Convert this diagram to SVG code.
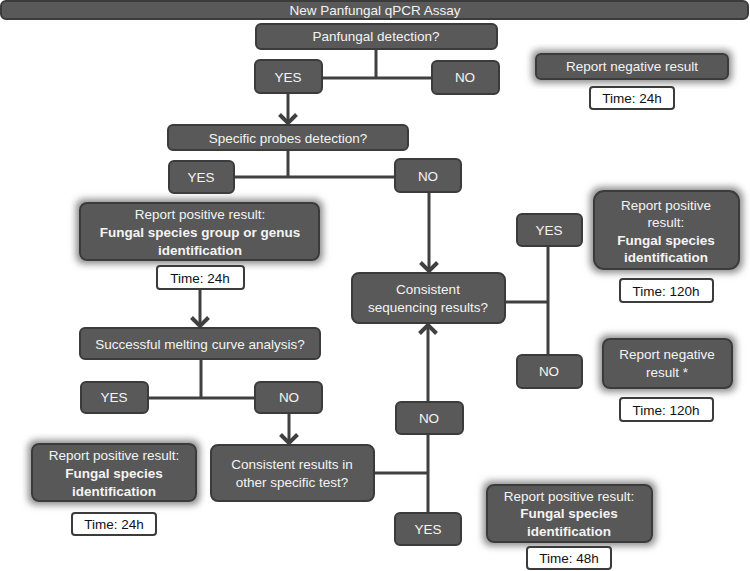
<svg xmlns="http://www.w3.org/2000/svg" width="750" height="571" viewBox="0 0 750 571">
<style>
.n{fill:#595959;stroke:#3b3b3b;stroke-width:2}
.t{fill:#ffffff;stroke:#3b3b3b;stroke-width:2}
text{font-family:"Liberation Sans",Arial,sans-serif;font-size:13.5px;text-anchor:middle}
.w{fill:#f4f4f4}
.b{font-weight:bold}
.k{fill:#111}
.c{stroke:#404040;stroke-width:3;fill:none}
</style>
<defs>
<filter id="glow" x="-20%" y="-40%" width="140%" height="180%">
<feMorphology in="SourceAlpha" operator="dilate" radius="3" result="d"/>
<feGaussianBlur in="d" stdDeviation="3.5" result="bl"/>
<feFlood flood-color="#8c8c8c"/>
<feComposite in2="bl" operator="in" result="g"/>
<feMerge><feMergeNode in="g"/><feMergeNode in="SourceGraphic"/></feMerge>
</filter>
<marker id="ah" markerUnits="userSpaceOnUse" markerWidth="20" markerHeight="20" refX="10" refY="10" viewBox="0 0 20 20" orient="auto">
<path d="M1.5,1.5 L10,10 L1.5,18.5" fill="none" stroke="#404040" stroke-width="4"/>
</marker>
</defs>
<g id="connectors">
<path class="c" d="M376,49 V78 M322,78 H432"/>
<path class="c" d="M288,93 V123" marker-end="url(#ah)"/>
<path class="c" d="M288,150 V177 M234,177 H395"/>
<path class="c" d="M429,192 V271" marker-end="url(#ah)"/>
<path class="c" d="M200,289 V326" marker-end="url(#ah)"/>
<path class="c" d="M201,359 V398 M148,398 H255"/>
<path class="c" d="M289,413 V443" marker-end="url(#ah)"/>
<path class="c" d="M374,473 H428 M428,434 V513"/>
<path class="c" d="M428,402 V325" marker-end="url(#ah)"/>
<path class="c" d="M505,302 H548 M548,246 V355"/>
</g>
<g id="title"><rect class="n" x="1" y="1" width="747" height="18" rx="5"/><text class="w" x="375" y="15">New Panfungal qPCR Assay</text></g>
<g id="panfungal"><rect class="n" x="256" y="24" width="241" height="25" rx="5"/><text class="w" x="376" y="41">Panfungal detection?</text></g>
<g id="yes1"><rect class="n" x="255" y="60" width="67" height="33" rx="5"/><text class="w" x="288" y="81.5">YES</text></g>
<g id="no1"><rect class="n" x="432" y="61" width="67" height="33" rx="5"/><text class="w" x="465" y="82">NO</text></g>
<g id="neg1"><rect class="n" x="536" y="54" width="192" height="25" rx="5" filter="url(#glow)"/><text class="w" x="632" y="71">Report negative result</text></g>
<g id="time1"><rect class="t" x="590" y="87" width="84" height="22" rx="3"/><text class="k" x="632" y="103">Time: 24h</text></g>
<g id="specific"><rect class="n" x="168" y="125" width="240" height="25" rx="5"/><text class="w" x="288" y="142.5">Specific probes detection?</text></g>
<g id="yes2"><rect class="n" x="169" y="161" width="65" height="32" rx="5"/><text class="w" x="201" y="182">YES</text></g>
<g id="no2"><rect class="n" x="395" y="159" width="66" height="33" rx="5"/><text class="w" x="428" y="180.5">NO</text></g>
<g id="pos1"><rect class="n" x="80" y="203" width="239" height="57" rx="7" filter="url(#glow)"/><text class="w" x="200" y="219">Report positive result:</text><text class="w b" x="200" y="237">Fungal species group or genus</text><text class="w b" x="200" y="255">identification</text></g>
<g id="time2"><rect class="t" x="157" y="266" width="87" height="23" rx="3"/><text class="k" x="200" y="282.5">Time: 24h</text></g>
<g id="melting"><rect class="n" x="80" y="328" width="240" height="31" rx="5"/><text class="w" x="200" y="348.5">Successful melting curve analysis?</text></g>
<g id="yes3"><rect class="n" x="81" y="382" width="67" height="31" rx="5"/><text class="w" x="114" y="402">YES</text></g>
<g id="no3"><rect class="n" x="255" y="382" width="67" height="31" rx="5"/><text class="w" x="289" y="402">NO</text></g>
<g id="pos2"><rect class="n" x="32" y="444" width="164" height="57" rx="7" filter="url(#glow)"/><text class="w" x="114" y="460">Report positive result:</text><text class="w b" x="114" y="478">Fungal species</text><text class="w b" x="114" y="496">identification</text></g>
<g id="time3"><rect class="t" x="72" y="513" width="84" height="22" rx="3"/><text class="k" x="114" y="529">Time: 24h</text></g>
<g id="othertest"><rect class="n" x="211" y="445" width="163" height="56" rx="7"/><text class="w" x="292" y="469">Consistent results in</text><text class="w" x="292" y="487">other specific test?</text></g>
<g id="no4"><rect class="n" x="396" y="402" width="67" height="32" rx="5"/><text class="w" x="429" y="423">NO</text></g>
<g id="yes4"><rect class="n" x="395" y="513" width="66" height="32" rx="5"/><text class="w" x="428" y="534">YES</text></g>
<g id="pos4"><rect class="n" x="487" y="485" width="165" height="57" rx="7" filter="url(#glow)"/><text class="w" x="569" y="501">Report positive result:</text><text class="w b" x="569" y="518">Fungal species</text><text class="w b" x="569" y="536">identification</text></g>
<g id="time4"><rect class="t" x="527" y="547" width="84" height="22" rx="3"/><text class="k" x="569" y="563">Time: 48h</text></g>
<g id="sequencing"><rect class="n" x="352" y="273" width="153" height="50" rx="7"/><text class="w" x="428" y="294">Consistent</text><text class="w" x="428" y="312">sequencing results?</text></g>
<g id="yes5"><rect class="n" x="517" y="214" width="65" height="32" rx="5"/><text class="w" x="549" y="235">YES</text></g>
<g id="no5"><rect class="n" x="517" y="355" width="65" height="33" rx="5"/><text class="w" x="549" y="376">NO</text></g>
<g id="pos3"><rect class="n" x="594" y="191" width="145" height="78" rx="10" filter="url(#glow)"/><text class="w" x="666" y="210">Report positive</text><text class="w" x="666" y="227">result:</text><text class="w b" x="666" y="245">Fungal species</text><text class="w b" x="666" y="262">identification</text></g>
<g id="time5"><rect class="t" x="620" y="279" width="93" height="23" rx="3"/><text class="k" x="666" y="295.5">Time: 120h</text></g>
<g id="neg2"><rect class="n" x="603" y="339" width="129" height="49" rx="7" filter="url(#glow)"/><text class="w" x="667" y="359">Report negative</text><text class="w" x="667" y="377">result *</text></g>
<g id="time6"><rect class="t" x="620" y="398" width="93" height="23" rx="3"/><text class="k" x="666" y="414.5">Time: 120h</text></g>
</svg>
